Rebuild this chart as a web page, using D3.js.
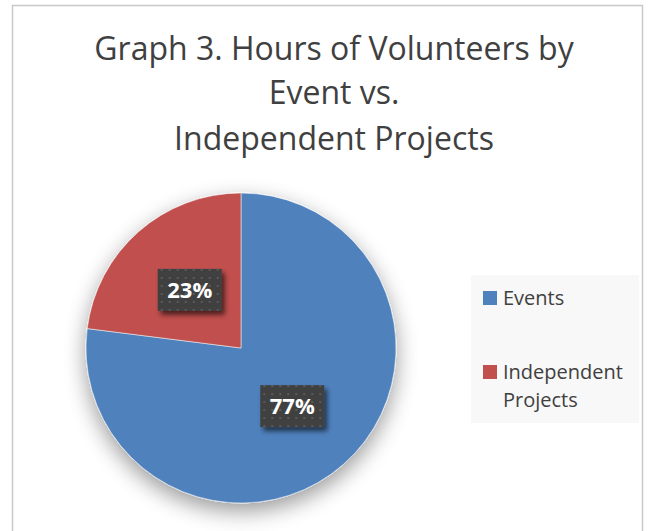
<!DOCTYPE html>
<html>
<head>
<meta charset="utf-8">
<script src="https://cdn.jsdelivr.net/npm/d3@7"></script>
<style>
  body { margin: 0; background: #fff; }
  text { font-family: "Open Sans", sans-serif; }
</style>
</head>
<body>
<svg width="655" height="531"></svg>
<script>
var svg = d3.select("svg");

const width = +svg.attr("width");
const height = +svg.attr("height");

// data
var categories = ["Events", "Independent Projects"];
var values = [77, 23];
var colors = ["#4F81BD", "#C0504D"];
var titleLines = ["Graph 3. Hours of Volunteers by", "Event vs.", "Independent Projects"];

const cx = 241, cy = 348, radius = 155;

var defs = svg.append("defs");

// soft shadow under the pie
var shadow = defs.append("filter").attr("id", "pieShadow")
  .attr("x", "-30%").attr("y", "-30%").attr("width", "160%").attr("height", "160%");
shadow.append("feGaussianBlur").attr("in", "SourceAlpha").attr("stdDeviation", 11).attr("result", "b");
shadow.append("feOffset").attr("in", "b").attr("dy", 8).attr("result", "o");
shadow.append("feComponentTransfer").attr("in", "o").attr("result", "s")
  .append("feFuncA").attr("type", "linear").attr("slope", 0.4);
var m = shadow.append("feMerge");
m.append("feMergeNode").attr("in", "s");
m.append("feMergeNode").attr("in", "SourceGraphic");

// label box shadow
var lshadow = defs.append("filter").attr("id", "labelShadow")
  .attr("x", "-30%").attr("y", "-30%").attr("width", "160%").attr("height", "160%");
lshadow.append("feGaussianBlur").attr("in", "SourceAlpha").attr("stdDeviation", 2.5).attr("result", "b");
lshadow.append("feOffset").attr("in", "b").attr("dx", 3).attr("dy", 4).attr("result", "o");
lshadow.append("feComponentTransfer").attr("in", "o").attr("result", "s")
  .append("feFuncA").attr("type", "linear").attr("slope", 0.6);
var m2 = lshadow.append("feMerge");
m2.append("feMergeNode").attr("in", "s");
m2.append("feMergeNode").attr("in", "SourceGraphic");

// dotted pattern for label boxes
var pat = defs.append("pattern").attr("id", "dots")
  .attr("patternUnits", "userSpaceOnUse").attr("width", 8).attr("height", 8);
pat.append("rect").attr("width", 8).attr("height", 8).attr("fill", "#404040");
pat.append("rect").attr("x", 3).attr("y", 3).attr("width", 2).attr("height", 2).attr("fill", "#5a5a5a");

// chart border
svg.append("rect")
  .attr("x", 12.5).attr("y", 5.5)
  .attr("width", 630).attr("height", 540)
  .attr("fill", "#fff").attr("stroke", "#c8c8c8").attr("stroke-width", 1.5);

// title
svg.append("g").selectAll("text")
  .data(titleLines)
  .enter().append("text")
  .attr("x", 334)
  .attr("y", (d, i) => [60, 104, 150][i])
  .attr("text-anchor", "middle")
  .attr("font-size", 32)
  .attr("fill", "#404040")
  .text(d => d);

var pie = d3.pie().sort(null).value(d => d);
var arc = d3.arc().innerRadius(0).outerRadius(radius);
var labelArc = d3.arc().innerRadius(radius * 0.5).outerRadius(radius * 0.5);

var g = svg.append("g").attr("transform", "translate(" + cx + "," + cy + ")");

g.append("g").attr("filter", "url(#pieShadow)")
  .selectAll("path")
  .data(pie(values))
  .enter().append("path")
  .attr("d", arc)
  .attr("fill", (d, i) => colors[i])
  .attr("stroke", "#fff")
  .attr("stroke-width", 0.5);

var labels = g.selectAll(".lbl")
  .data(pie(values))
  .enter().append("g")
  .attr("class", "lbl")
  .attr("transform", d => "translate(" + labelArc.centroid(d) + ")");

labels.append("rect")
  .attr("x", -32).attr("y", -21)
  .attr("width", 64).attr("height", 42)
  .attr("fill", "url(#dots)")
  .attr("filter", "url(#labelShadow)");

labels.append("text")
  .attr("text-anchor", "middle")
  .attr("y", 8)
  .attr("font-size", 22)
  .attr("font-weight", "bold")
  .attr("fill", "#fff")
  .text(d => Math.round(d.data / d3.sum(values) * 100) + "%");

// legend
var legend = svg.append("g");
legend.append("rect")
  .attr("x", 471).attr("y", 275)
  .attr("width", 168).attr("height", 148)
  .attr("fill", "#f8f8f8");

var items = legend.selectAll(".item")
  .data(categories)
  .enter().append("g")
  .attr("class", "item")
  .attr("transform", (d, i) => "translate(483," + [291, 365][i] + ")");

items.append("rect")
  .attr("width", 14).attr("height", 14)
  .attr("fill", (d, i) => colors[i]);

items.append("text")
  .attr("x", 20)
  .attr("font-size", 20)
  .attr("fill", "#404040")
  .selectAll("tspan")
  .data(d => d === "Independent Projects" ? ["Independent", "Projects"] : [d])
  .enter().append("tspan")
  .attr("x", 20)
  .attr("y", (d, i) => 14 + i * 28)
  .text(d => d);
</script>
</body>
</html>
